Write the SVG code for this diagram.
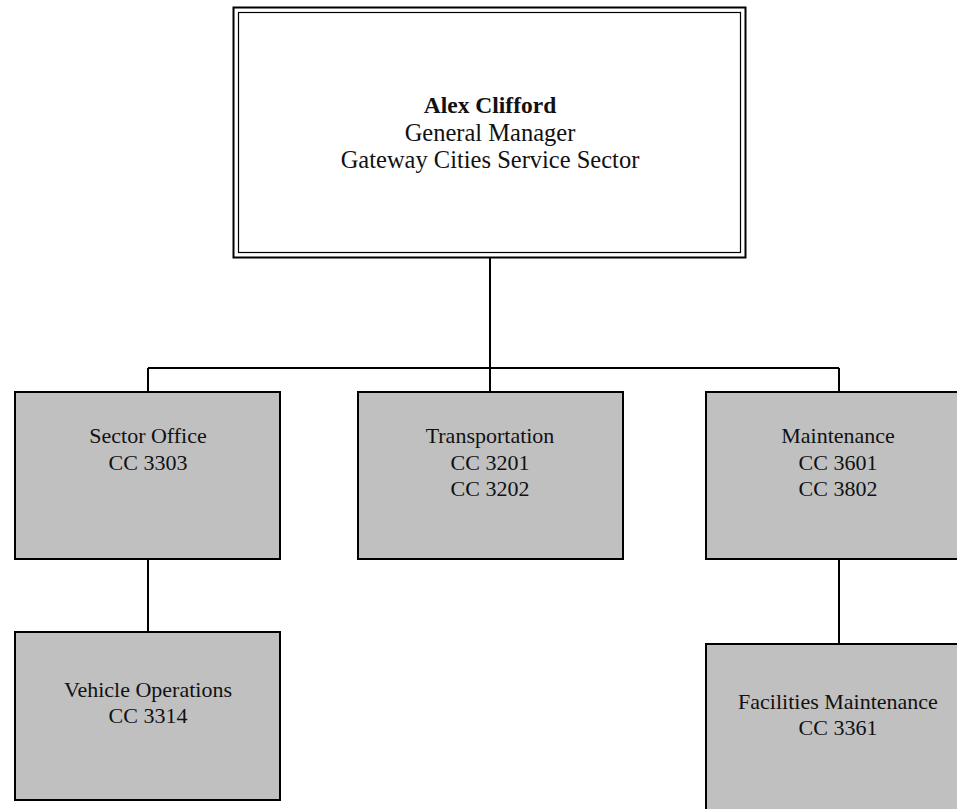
<svg xmlns="http://www.w3.org/2000/svg" width="957" height="809" viewBox="0 0 957 809">
<style>
.box{fill:#c0c0c0;stroke:#000;stroke-width:2}
.t{font-family:"Liberation Serif","Times New Roman",serif;font-size:22px;fill:#111;text-anchor:middle}
.h{font-size:24.5px}
.b{font-weight:bold;font-size:23.5px}
.c{fill:none;stroke:#000;stroke-width:2}
</style>
<rect width="957" height="809" fill="#fff"/>
<g id="connectors">
<path class="c" d="M490,258 V368 M148,368 H839 M148,368 V392 M490,368 V392 M839,368 V392 M148,559 V632 M839,559 V644"/>
</g>
<g id="gm">
<rect x="233.5" y="7.5" width="512" height="250" fill="#fff" stroke="#000" stroke-width="2"/>
<rect x="238.5" y="12.5" width="502" height="240" fill="none" stroke="#000" stroke-width="1.2"/>
<text class="t b" x="490" y="113">Alex Clifford</text>
<text class="t h" x="490" y="141">General Manager</text>
<text class="t h" x="490" y="168">Gateway Cities Service Sector</text>
</g>
<g id="sector">
<rect class="box" x="15" y="392" width="265" height="167"/>
<text class="t" x="148" y="443">Sector Office</text>
<text class="t" x="148" y="470">CC 3303</text>
</g>
<g id="transport">
<rect class="box" x="358" y="392" width="265" height="167"/>
<text class="t" x="490" y="443">Transportation</text>
<text class="t" x="490" y="470">CC 3201</text>
<text class="t" x="490" y="496">CC 3202</text>
</g>
<g id="maint">
<rect class="box" x="706" y="392" width="265" height="167"/>
<text class="t" x="838" y="443">Maintenance</text>
<text class="t" x="838" y="470">CC 3601</text>
<text class="t" x="838" y="496">CC 3802</text>
</g>
<g id="vehicle">
<rect class="box" x="15" y="632" width="265" height="168"/>
<text class="t" x="148" y="697">Vehicle Operations</text>
<text class="t" x="148" y="723">CC 3314</text>
</g>
<g id="facilities">
<rect class="box" x="706" y="644" width="265" height="170"/>
<text class="t" x="838" y="709">Facilities Maintenance</text>
<text class="t" x="838" y="735">CC 3361</text>
</g>
</svg>
